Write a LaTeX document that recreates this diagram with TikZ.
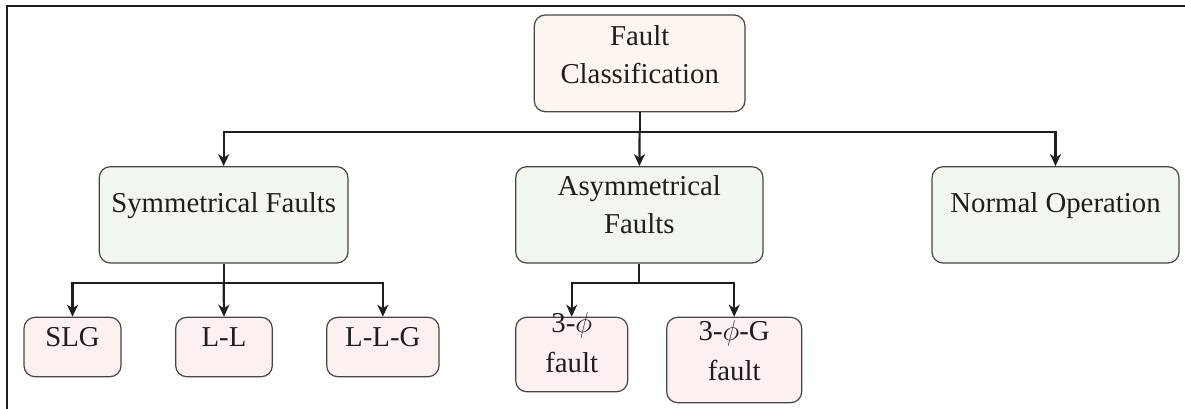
\documentclass[tikz,border=0pt]{standalone}
\usepackage{fontspec}
\setmainfont{Liberation Serif}
\usetikzlibrary{arrows.meta,fit}

\definecolor{rootfill}{RGB}{253,245,240}
\definecolor{midfill}{RGB}{241,246,239}
\definecolor{leaffill}{RGB}{253,240,241}
\definecolor{boxline}{RGB}{70,70,70}
\definecolor{ink}{RGB}{30,30,30}

\tikzset{
  box/.style={draw=boxline, line width=0.6pt, rounded corners=5.5pt, inner sep=0pt},
  rootbox/.style={box, fill=rootfill},
  midbox/.style={box, fill=midfill},
  leafbox/.style={box, fill=leaffill},
  lbl/.style={inner sep=0pt, align=center, text=ink,
    font=\fontsize{14.4}{18.75}\selectfont},
  arr/.style={draw=ink, line width=1.1pt,
    -{Stealth[length=6pt,width=5.5pt,inset=1.8pt]}},
  link/.style={draw=ink, line width=1.1pt},
}

\begin{document}
\begin{tikzpicture}[x=0.5pt,y=-0.5pt]
\useasboundingbox (0,0) rectangle (1185,408);

% outer frame (only its top and left sides fall inside the page)
\draw[ink, line width=1pt] (7,420) -- (7,6) -- (1200,6);

% boxes
\node[rootbox, fit={(534.3,15) (745,111.7)}] (fc) {};
\node[midbox,  fit={(99.3,166.7) (348,263)}] (sym) {};
\node[midbox,  fit={(515.7,166.7) (763,263)}] (asym) {};
\node[midbox,  fit={(932,166.7) (1179,263)}] (norm) {};
\node[leafbox, fit={(24,317.3) (121,376.7)}] (slg) {};
\node[leafbox, fit={(175.7,317.3) (272.3,376.7)}] (ll) {};
\node[leafbox, fit={(326.7,317.3) (439,376.7)}] (llg) {};
\node[leafbox, fit={(515.7,317.3) (627.7,391.7)}] (ph) {};
\node[leafbox, fit={(666.7,317.3) (801.7,402.7)}] (phg) {};

% labels (base anchor sits on the last line of a label)
\node[lbl, anchor=base] (fcT)   at (639.7,83)  {Fault\\Classification};
\node[lbl, anchor=base] (symT)  at (223.7,212) {Symmetrical Faults};
\node[lbl, anchor=base] (asymT) at (639.3,233) {Asymmetrical\\Faults};
\node[lbl, anchor=base] (normT) at (1055.5,212) {Normal Operation};
\node[lbl, anchor=base] (slgT)  at (72.5,346)  {SLG};
\node[lbl, anchor=base] (llT)   at (224,346)   {L-L};
\node[lbl, anchor=base] (llgT)  at (382.8,346.5) {L-L-G};
\node[lbl, anchor=base, font=\fontsize{14.4}{20}\selectfont] (phT)  at (571.7,372) {3-$\phi$\\fault};
\node[lbl, anchor=base, font=\fontsize{14.4}{20}\selectfont] (phgT) at (734.2,380)  {3-$\phi$-G\\fault};

% junction levels
\coordinate (jtop) at (0,131.7);
\coordinate (jlow) at (0,282.7);

% connectors from the root
\draw[link] (fc.south) -- (fc.south |- jtop);
\draw[arr] (fc.south |- jtop) -| (sym.north);
\draw[arr] (fc.south |- jtop) -- (asym.north);
\draw[arr] (fc.south |- jtop) -| (norm.north);

% connectors from the symmetrical branch
\draw[link] (sym.south) -- (sym.south |- jlow);
\draw[arr] (sym.south |- jlow) -| (slg.north);
\draw[arr] (sym.south |- jlow) -- (ll.north);
\draw[arr] (sym.south |- jlow) -| (llg.north);

% connectors from the asymmetrical branch
\draw[link] (asym.south) -- (asym.south |- jlow);
\draw[arr] (asym.south |- jlow) -| (ph.north);
\draw[arr] (asym.south |- jlow) -| (phg.north);
\end{tikzpicture}
\end{document}
